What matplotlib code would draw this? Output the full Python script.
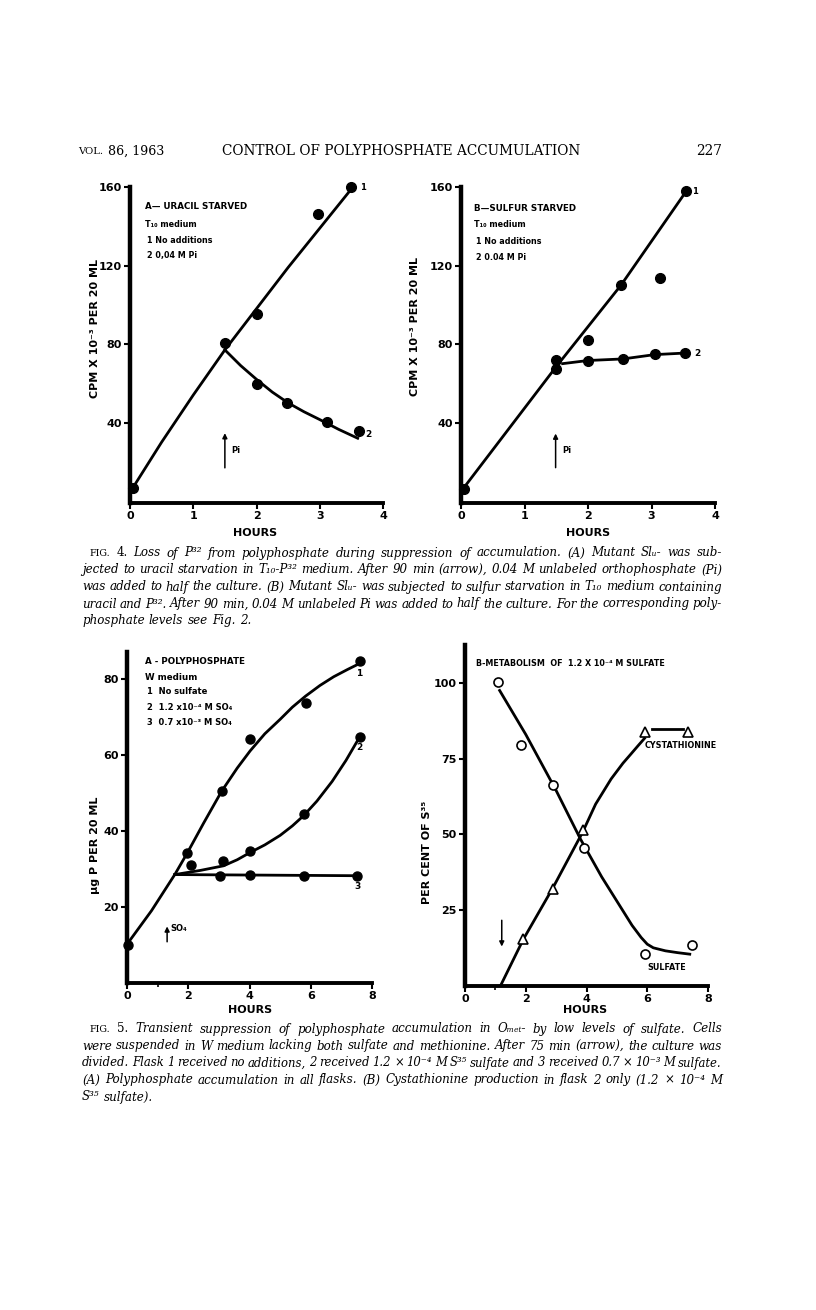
import numpy as np
import matplotlib.pyplot as plt

plt.rcParams['font.family'] = ['DejaVu Sans']

# ---- Fig. 4A: uracil starved ----
a4_x1 = [0.05, 1.5, 2.0, 2.97, 3.5]
a4_y1 = [6.6, 80.6, 95.4, 146, 160]
a4_x2 = [2.0, 2.48, 3.12, 3.62]
a4_y2 = [59.8, 49.7, 40.5, 35.5]
a4_fit1_x = [0.05, 0.5, 1.0, 1.5, 2.0, 2.5, 3.0, 3.5]
a4_fit1_y = [7, 30, 54, 77, 98, 119, 139, 159]
a4_fit2_x = [1.5, 1.75, 2.0, 2.25, 2.5, 2.75, 3.0, 3.3, 3.6]
a4_fit2_y = [77, 69, 62, 55.5, 50, 45.5, 41.5, 36.5, 32]

# ---- Fig. 4B: sulfur starved ----
b4_x1 = [0.05, 1.5, 2.0, 2.52, 3.14, 3.55]
b4_y1 = [5.9, 67.4, 82, 110, 113.4, 158]
b4_x2 = [1.49, 2.0, 2.55, 3.05, 3.53]
b4_y2 = [72, 71.6, 72.4, 74.8, 75.6]
b4_fit1_x = [0.05, 1.5, 2.52, 3.55]
b4_fit1_y = [7, 68.5, 110, 158]
b4_fit2_x = [1.6, 2.0, 2.55, 3.05, 3.53]
b4_fit2_y = [70, 71.6, 72.4, 74.6, 75.4]

# ---- Fig. 5A: polyphosphate ----
a5_x1 = [0.03, 1.97, 3.09, 4.02, 5.83, 7.6]
a5_y1 = [10.1, 34.2, 50.4, 64.2, 73.5, 84.6]
a5_x2 = [2.08, 3.15, 4.02, 5.77, 7.6]
a5_y2 = [30.9, 32.0, 34.6, 44.3, 64.7]
a5_x3 = [3.04, 4.02, 5.79, 7.5]
a5_y3 = [28.2, 28.5, 28.1, 28.2]
a5_fit1_x = [0.03, 0.8, 1.56, 1.97, 2.5, 3.09, 3.6, 4.02, 4.5, 5.0, 5.4, 5.83, 6.3, 6.75, 7.2, 7.6]
a5_fit1_y = [10.5, 19, 28.5, 34.2, 42, 50.4, 56.5, 61.0, 65.5, 69.3, 72.5, 75.4, 78.2, 80.5, 82.4, 84.0]
a5_fit2_x = [1.56, 2.4, 3.15, 3.6, 4.02, 4.5, 5.0, 5.4, 5.77, 6.2, 6.7, 7.15, 7.6]
a5_fit2_y = [28.5, 29.6, 30.8, 32.4, 34.3, 36.3, 38.8, 41.3, 44.0, 47.8, 53.0, 58.5, 64.7]
a5_fit3_x = [1.56, 7.5]
a5_fit3_y = [28.5, 28.2]

# ---- Fig. 5B: metabolism of sulfate ----
sulf_x = [1.1, 1.86, 2.89, 3.91, 5.92, 7.46]
sulf_y = [100.2, 79.6, 66.4, 45.4, 10.5, 13.4]
cyst_x = [1.92, 2.9, 3.87, 5.91, 7.33]
cyst_y = [15.6, 31.9, 51.5, 83.9, 83.9]
sulf_fit_x = [1.14, 2.0, 3.0, 3.8, 4.5, 5.0, 5.5, 5.8, 6.0, 6.2, 6.6, 7.0, 7.4]
sulf_fit_y = [97.5, 83, 64.5, 48.5, 36, 28, 20, 16, 13.8, 12.6, 11.6, 11.0, 10.5]
cyst_fit_x = [1.19, 1.92, 2.9, 3.87, 4.3, 4.81, 5.2, 5.46, 5.7, 5.91]
cyst_fit_y = [0.5, 15.4, 32.5, 50.7, 60, 68.3, 73.5, 76.5, 79.3, 81.7]
cyst_top_x = [6.16, 7.19]
cyst_top_y = [84.8, 84.8]

W, H = 816, 1310
fig = plt.figure(figsize=(W / 100, H / 100), dpi=100)
renderer = fig.canvas.get_renderer()

BOLD = dict(fontweight='bold', color='black')
SERIF = ['DejaVu Serif']


def make_axes(left, right, top, bottom):
    ax = fig.add_axes([left / W, 1 - bottom / H, (right - left) / W, (bottom - top) / H])
    for s in ['top', 'right']:
        ax.spines[s].set_visible(False)
    ax.spines['left'].set_linewidth(3.2)
    ax.spines['bottom'].set_linewidth(2.8)
    ax.tick_params(length=4, width=1.5, direction='out', pad=2, labelsize=8)
    return ax


def bold_ticks(ax):
    for lab in ax.get_xticklabels() + ax.get_yticklabels():
        lab.set_fontweight('bold')


def arrow(ax, x, y0, y1, label, dx=0.12, ly=None):
    ax.annotate('', xy=(x, y1), xytext=(x, y0),
                arrowprops=dict(arrowstyle='-|>', lw=1.1, color='black', mutation_scale=7))
    if label:
        ax.text(x + dx, ly if ly is not None else (y0 + y1) / 2, label, fontsize=6, **BOLD,
                va='center', ha='left')


# ---------- Fig 4A ----------
ax = make_axes(130, 383, 187, 503)
ax.set_xlim(0, 4)
ax.set_ylim(-1, 160)
ax.plot(a4_fit1_x, a4_fit1_y, color='black', lw=2)
ax.plot(a4_fit2_x, a4_fit2_y, color='black', lw=2)
ax.plot(a4_x1, a4_y1, 'o', color='black', ms=7, clip_on=False)
ax.plot(a4_x2, a4_y2, 'o', color='black', ms=7, clip_on=False)
ax.set_xticks([0, 1, 2, 3, 4])
ax.set_yticks([40, 80, 120, 160])
bold_ticks(ax)
ax.text(3.63, 160, '1', fontsize=6, **BOLD, va='center')
ax.text(3.72, 34, '2', fontsize=6.5, **BOLD, va='center')
arrow(ax, 1.5, 15.5, 36, 'Pi', dx=0.1)
ax.text(0.24, 150, 'A— URACIL STARVED', fontsize=6.3, **BOLD, va='center')
ax.text(0.24, 141, 'T₁₀ medium', fontsize=5.8, **BOLD, va='center')
ax.text(0.27, 132.6, '1 No additions', fontsize=5.8, **BOLD, va='center')
ax.text(0.27, 125, '2 0,04 M Pi', fontsize=5.8, **BOLD, va='center')

# ---------- Fig 4B ----------
ax = make_axes(461, 715, 187, 503)
ax.set_xlim(0, 4)
ax.set_ylim(-1, 160)
ax.plot(b4_fit1_x, b4_fit1_y, color='black', lw=2)
ax.plot(b4_fit2_x, b4_fit2_y, color='black', lw=2)
ax.plot(b4_x1, b4_y1, 'o', color='black', ms=7, clip_on=False)
ax.plot(b4_x2, b4_y2, 'o', color='black', ms=7, clip_on=False)
ax.set_xticks([0, 1, 2, 3, 4])
ax.set_yticks([40, 80, 120, 160])
bold_ticks(ax)
ax.text(3.64, 157.6, '1', fontsize=6, **BOLD, va='center')
ax.text(3.67, 75.3, '2', fontsize=6.5, **BOLD, va='center')
arrow(ax, 1.49, 15.6, 35.8, 'Pi', dx=0.1)
ax.text(0.21, 149, 'B—SULFUR STARVED', fontsize=6.3, **BOLD, va='center')
ax.text(0.21, 141, 'T₁₀ medium', fontsize=5.8, **BOLD, va='center')
ax.text(0.24, 132.4, '1 No additions', fontsize=5.8, **BOLD, va='center')
ax.text(0.24, 124, '2 0.04 M Pi', fontsize=5.8, **BOLD, va='center')

# ---------- Fig 5A ----------
ax = make_axes(127, 372, 652, 983)
ax.set_xlim(0, 8)
ax.set_ylim(0, 87)
ax.plot(a5_fit1_x, a5_fit1_y, color='black', lw=2)
ax.plot(a5_fit2_x, a5_fit2_y, color='black', lw=2)
ax.plot(a5_fit3_x, a5_fit3_y, color='black', lw=2)
for xs, ys in [(a5_x1, a5_y1), (a5_x2, a5_y2), (a5_x3, a5_y3)]:
    ax.plot(xs, ys, 'o', color='black', ms=6.5, clip_on=False)
ax.set_xticks([0, 2, 4, 6, 8])
ax.set_xticks([1], minor=True)
ax.tick_params(which='minor', length=3, width=1.2)
ax.set_yticks([20, 40, 60, 80])
bold_ticks(ax)
ax.text(7.57, 81.4, '1', fontsize=6.5, **BOLD, va='center', ha='center')
ax.text(7.6, 61.8, '2', fontsize=6.5, **BOLD, va='center', ha='center')
ax.text(7.52, 25.4, '3', fontsize=6.5, **BOLD, va='center', ha='center')
arrow(ax, 1.31, 10.1, 15.6, 'SO₄', dx=0.1, ly=14.3)
ax.text(0.58, 84.6, 'A - POLYPHOSPHATE', fontsize=6.3, **BOLD, va='center')
ax.text(0.58, 80.3, 'W medium', fontsize=6.3, **BOLD, va='center')
ax.text(0.65, 76.5, '1  No sulfate', fontsize=6, **BOLD, va='center')
ax.text(0.65, 72.4, '2  1.2 x10⁻⁴ M SO₄', fontsize=6, **BOLD, va='center')
ax.text(0.65, 68.4, '3  0.7 x10⁻³ M SO₄', fontsize=6, **BOLD, va='center')

# ---------- Fig 5B ----------
ax = make_axes(465, 708, 645, 986)
ax.set_xlim(0, 8)
ax.set_ylim(0, 112.5)
ax.plot(sulf_fit_x, sulf_fit_y, color='black', lw=2)
ax.plot(cyst_fit_x, cyst_fit_y, color='black', lw=2)
ax.plot(cyst_top_x, cyst_top_y, color='black', lw=2)
ax.plot(sulf_x, sulf_y, 'o', mfc='white', mec='black', mew=1.2, ms=6.5, clip_on=False)
ax.plot(cyst_x, cyst_y, '^', mfc='white', mec='black', mew=1.2, ms=6.5, clip_on=False)
ax.set_xticks([0, 2, 4, 6, 8])
ax.set_xticks([1], minor=True)
ax.tick_params(which='minor', length=3, width=1.2)
ax.set_yticks([25, 50, 75, 100])
bold_ticks(ax)
ax.annotate('', xy=(1.21, 12.1), xytext=(1.21, 22.6),
            arrowprops=dict(arrowstyle='-|>', lw=1.1, color='black', mutation_scale=7))
ax.text(0.36, 106.3, 'B-METABOLISM  OF  1.2 X 10⁻⁴ M SULFATE', fontsize=5.8, **BOLD, va='center')
ax.text(5.9, 79.3, 'CYSTATHIONINE', fontsize=5.8, **BOLD, va='center')
ax.text(6.0, 6.0, 'SULFATE', fontsize=5.8, **BOLD, va='center')

# ---------- axis titles ----------
fig.text(95 / W, 1 - 328 / H, 'CPM X 10⁻³ PER 20 ML', rotation=90, fontsize=8, **BOLD,
         ha='center', va='center')
fig.text(415 / W, 1 - 327 / H, 'CPM X 10⁻³ PER 20 ML', rotation=90, fontsize=8, **BOLD,
         ha='center', va='center')
fig.text(95 / W, 1 - 845 / H, 'µg P PER 20 ML', rotation=90, fontsize=8, **BOLD,
         ha='center', va='center')
fig.text(427 / W, 1 - 852 / H, 'PER CENT OF S³⁵', rotation=90, fontsize=8, **BOLD,
         ha='center', va='center')
for x, y in [(255, 533), (588, 533), (250, 1010), (585, 1010)]:
    fig.text(x / W, 1 - y / H, 'HOURS', fontsize=8, **BOLD, ha='center', va='center')

# ---------- page header ----------
title = fig.text(222 / W, 1 - 151 / H, 'CONTROL OF POLYPHOSPHATE ACCUMULATION', fontsize=9,
                 family=SERIF, ha='left', va='center')
head_fs = 9 * (583 - 222) / title.get_window_extent(renderer).width
title.set_fontsize(head_fs)
vol = fig.text(78 / W, 1 - 151 / H, 'VOL.', fontsize=7.2, family=SERIF, ha='left', va='center')
vol_w = vol.get_window_extent(renderer).width
fig.text((78 + vol_w + 5) / W, 1 - 151 / H, '86, 1963', fontsize=head_fs * 0.92, family=SERIF,
         ha='left', va='center')
fig.text(722 / W, 1 - 151 / H, '227', fontsize=head_fs, family=SERIF, ha='right', va='center')

# ---------- captions (justified) ----------
cap4 = [
    'FIG. 4. Loss of P³² from polyphosphate during suppression of accumulation. (A) Mutant Slᵤ- was sub-',
    'jected to uracil starvation in T₁₀-P³² medium. After 90 min (arrow), 0.04 M unlabeled orthophosphate (Pi)',
    'was added to half the culture. (B) Mutant Slᵤ- was subjected to sulfur starvation in T₁₀ medium containing',
    'uracil and P³². After 90 min, 0.04 M unlabeled Pi was added to half the culture. For the corresponding poly-',
    'phosphate levels see Fig. 2.',
]
cap5 = [
    'FIG. 5. Transient suppression of polyphosphate accumulation in Oₘₑₜ- by low levels of sulfate. Cells',
    'were suspended in W medium lacking both sulfate and methionine. After 75 min (arrow), the culture was',
    'divided. Flask 1 received no additions, 2 received 1.2 × 10⁻⁴ M S³⁵ sulfate and 3 received 0.7 × 10⁻³ M sulfate.',
    '(A) Polyphosphate accumulation in all flasks. (B) Cystathionine production in flask 2 only (1.2 × 10⁻⁴ M',
    'S³⁵ sulfate).',
]
CAP_FS = 8.6
RIGHT = 722
MIN_GAP = 3.0
for lines, y0 in [(cap4, 553), (cap5, 1029)]:
    for i, line in enumerate(lines):
        x0 = 90 if i == 0 else 82
        y = 1 - (y0 + 17 * i) / H
        words = line.split(' ')
        texts = []
        for j, w in enumerate(words):
            if i == 0 and j == 0:
                t = fig.text(0, y, w, fontsize=6.9, family=SERIF, ha='left', va='center')
            elif i == 0 and j == 1:
                t = fig.text(0, y, w, fontsize=CAP_FS, family=SERIF, ha='left', va='center')
            else:
                t = fig.text(0, y, w, fontsize=CAP_FS, family=SERIF, style='italic',
                             ha='left', va='center')
            texts.append(t)
        widths = [t.get_window_extent(renderer).width for t in texts]
        n_gaps = len(words) - 1
        if i == len(lines) - 1:
            gap = 4.3
        else:
            room = RIGHT - x0 - MIN_GAP * n_gaps
            if sum(widths) > room:
                k = room / sum(widths)
                for t in texts:
                    t.set_fontsize(t.get_fontsize() * k)
                widths = [t.get_window_extent(renderer).width for t in texts]
            gap = (RIGHT - x0 - sum(widths)) / n_gaps
        x = x0
        for t, wd in zip(texts, widths):
            t.set_x(x / W)
            x += wd + gap

fig.savefig('out.png', dpi=100)
